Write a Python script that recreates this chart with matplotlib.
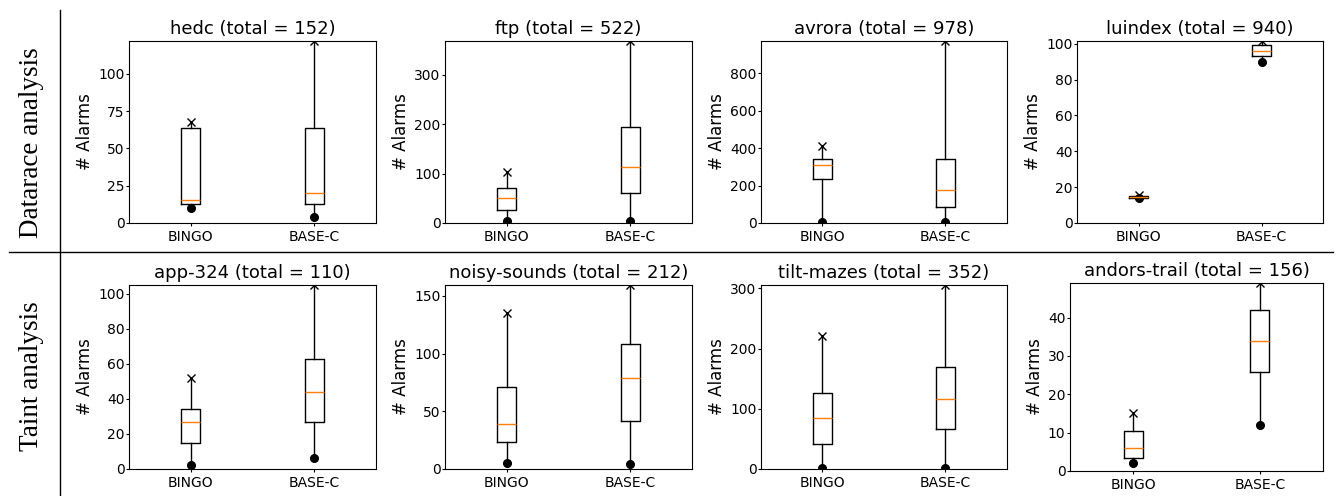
import matplotlib
matplotlib.use("Agg")
import matplotlib.pyplot as plt
from matplotlib.lines import Line2D

tools = ["BINGO", "BASE-C"]
benchmarks = ["hedc", "ftp", "avrora", "luindex",
              "app-324", "noisy-sounds", "tilt-mazes", "andors-trail"]
totals = [152, 522, 978, 940, 110, 212, 352, 156]
row_labels = ["Datarace analysis", "Taint analysis"]

# per benchmark: min, q1, median, q3, max
bingo_min = [10, 5, 5, 14, 2, 5, 2, 2]
bingo_q1 = [13, 27, 233, 14, 14.7, 23.7, 42, 3.4]
bingo_med = [15.5, 51, 311, 14.5, 27, 39.4, 84, 5.9]
bingo_q3 = [64, 70, 343, 15, 34.4, 71.2, 126, 10.5]
bingo_max = [68, 104, 411, 15.5, 52, 135.5, 221, 15]

basec_min = [4, 5, 5, 90, 6, 4, 2, 12]
basec_q1 = [12.5, 61, 85, 93, 26.7, 41.4, 66.5, 25.9]
basec_med = [20, 113, 177, 96, 44, 78.5, 116, 33.9]
basec_q3 = [64, 195, 343, 99, 62.6, 108.6, 168.6, 41.9]
basec_max = [122, 368, 971, 101.5, 105, 159.5, 305.6, 49]

yticks = [[0, 25, 50, 75, 100], [0, 100, 200, 300], [0, 200, 400, 600, 800],
          [0, 20, 40, 60, 80, 100], [0, 20, 40, 60, 80, 100], [0, 50, 100, 150],
          [0, 100, 200, 300], [0, 10, 20, 30, 40]]

W, H = 1341, 496
fig = plt.figure(figsize=(W / 100, H / 100), dpi=100)

# axes boxes in pixels: left, top, right, bottom
boxes = [(129, 41, 376, 223), (445, 41, 692, 223), (761, 41, 1007, 223), (1077, 41, 1323, 223),
         (129, 285, 376, 469), (445, 285, 692, 469), (761, 285, 1007, 469), (1070, 283, 1323, 471)]

for i, name in enumerate(benchmarks):
    l, t, r, b = boxes[i]
    ax = fig.add_axes([l / W, (H - b) / H, (r - l) / W, (b - t) / H])
    stats = []
    for lab, mn, q1, md, q3, mx in [
            (tools[0], bingo_min[i], bingo_q1[i], bingo_med[i], bingo_q3[i], bingo_max[i]),
            (tools[1], basec_min[i], basec_q1[i], basec_med[i], basec_q3[i], basec_max[i])]:
        stats.append(dict(label=lab, whislo=mn, q1=q1, med=md, q3=q3, whishi=mx, fliers=[]))
    ax.bxp(stats, showcaps=False, widths=0.15,
           boxprops=dict(color="black", lw=1),
           whiskerprops=dict(color="black", lw=1),
           medianprops=dict(color="#ff7f0e", lw=1))
    ax.plot([1, 2], [bingo_max[i], basec_max[i]], "x", color="black", ms=5.5)
    ax.plot([1, 2], [bingo_min[i], basec_min[i]], "o", color="black", ms=5.5)
    ax.set_ylim(0, basec_max[i])
    ax.set_yticks(yticks[i])
    ax.tick_params(labelsize=10, length=2.2, pad=1)
    ax.tick_params(axis="x", pad=3)
    ax.set_ylabel("# Alarms", fontsize=12, labelpad=3)
    ax.set_title("%s (total = %d)" % (name, totals[i]), fontsize=13, pad=5)

# row labels and separators
fig.text(32 / W, 1 - 143 / H, row_labels[0], rotation=90, ha="center", va="center",
         family="Liberation Serif", fontsize=19.5)
fig.text(32 / W, 1 - 376 / H, row_labels[1], rotation=90, ha="center", va="center",
         family="Liberation Serif", fontsize=19.5)
fig.add_artist(Line2D([60 / W, 60 / W], [0, 1 - 10 / H], color="black", lw=1))
fig.add_artist(Line2D([9 / W, 1333 / W], [1 - 252 / H, 1 - 252 / H], color="black", lw=1))

fig.savefig("out.png", dpi=100)
